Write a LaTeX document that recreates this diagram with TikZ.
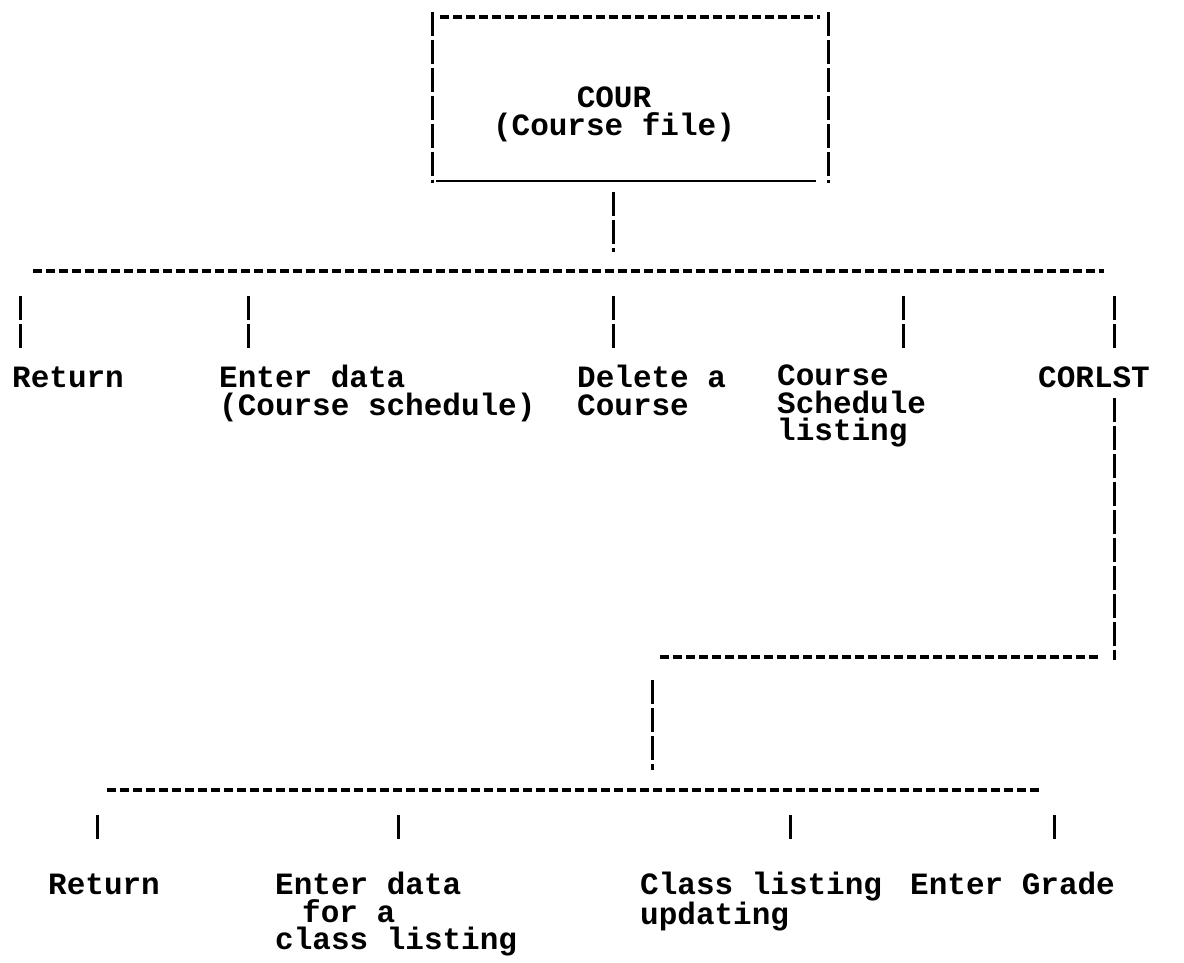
\documentclass[tikz,border=0pt]{standalone}
\usepackage{fontspec}
\setmonofont{Liberation Mono}
\usepackage{tikz}
\usetikzlibrary{positioning}

\begin{document}
\begin{tikzpicture}[x=1pt,y=-1pt]
            \tikzstyle{item} = [anchor=north west, inner sep=0pt, align=left, font=\ttfamily\bfseries\fontsize{31}{27.5}\selectfont, execute at begin node={\rule{0pt}{22pt}}]
            \tikzstyle{hline} = [line width=3.4pt, dash pattern=on 9pt off 4pt]
            \tikzstyle{vline} = [line width=3pt, dash pattern=on 24pt off 4pt]

            \useasboundingbox (0,0) rectangle (1184,962);

            % file box
            \node [item, anchor=north, align=center] (cour) at (614,87) {COUR\\(Course file)};
            \coordinate (boxnw) at (432,12);
            \coordinate (boxne) at (828,12);
            \coordinate (boxsw) at (432,183);
            \coordinate (boxse) at (828,183);
            \draw [hline] ([xshift=8pt,yshift=-5pt]boxnw) -- ([xshift=-8pt,yshift=-5pt]boxne);
            \draw [vline] (boxnw) -- (boxsw);
            \draw [vline] (boxne) -- (boxse);
            \draw [line width=2.6pt] ([xshift=4pt,yshift=2pt]boxsw) -- ([xshift=-12pt,yshift=2pt]boxse);

            % first level menu
            \node [item] (ret1) at (12,365) {Return};
            \node [item] (enter1) at (219,365) {Enter data\\(Course schedule)};
            \node [item] (del) at (577,365) {Delete a\\Course};
            \node [item] (sched) at (777,365) {Course\\Schedule\\listing};
            \node [item] (corlst) at (1038,365) {CORLST};

            \coordinate (stem1) at (613,192);
            \coordinate (bus1w) at (33,271);
            \coordinate (bus1e) at (1104,271);
            \draw [vline] (stem1) -- ++(0,60);
            \draw [hline] (bus1w) -- (bus1e);
            \foreach \x in {20,248,613,903,1114}
                \draw [vline] (\x,296) -- (\x,350);

            % second level menu under CORLST
            \coordinate (bus2w) at (660,657);
            \coordinate (bus2e) at (1100,657);
            \draw [vline] (corlst.south -| 1114,0) ++(0,10) -- (1114,660);
            \draw [hline] (bus2w) -- (bus2e);
            \coordinate (stem2) at (652,680);
            \draw [vline] (stem2) -- (652,770);

            \node [item] (ret2) at (48,872) {Return};
            \node [item] (enter2) at (275,872) {Enter data\\\hspace*{27pt}for a\\class listing};
            \node [item] (update) at (640,872) {Class listing\\updating};
            \node [item] (grade) at (910,872) {Enter Grade};

            \coordinate (bus3w) at (107,790);
            \coordinate (bus3e) at (1040,790);
            \draw [hline] (bus3w) -- (bus3e);
            \foreach \x in {97,398,790,1054}
                \draw [vline] (\x,815) -- (\x,840);
\end{tikzpicture}
\end{document}
